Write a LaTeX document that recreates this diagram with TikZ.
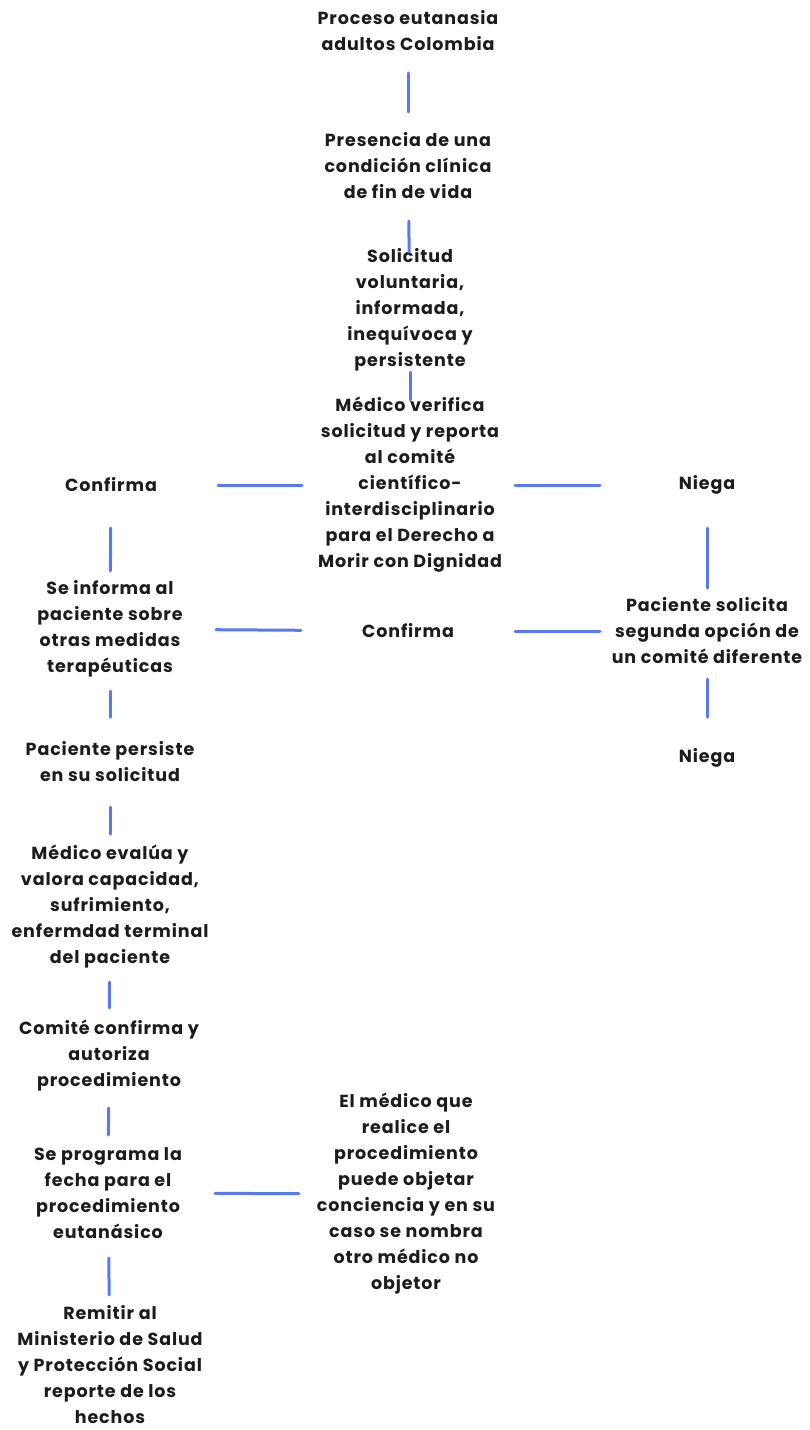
\documentclass[tikz,border=0pt]{standalone}
\usepackage{fontspec}
\setmainfont{Poppins}[LetterSpace=5]
\usepackage{tikz}

\definecolor{ink}{HTML}{1C1C1C}
\definecolor{wire}{HTML}{5A78F0}

\tikzset{
    box/.style={align=center, inner sep=0pt, text=ink,
        font=\fontsize{17.5}{26}\selectfont\bfseries},
    link/.style={draw=wire, line width=3pt, line cap=round},
}

\begin{document}
\begin{tikzpicture}[x=1pt, y=-1pt]
\useasboundingbox (0,0) rectangle (809,1430);

% centre column
\node[box] (title) at (408,31) {Proceso eutanasia\\adultos Colombia};
\node[box] (presencia) at (408,166) {Presencia de una\\condición clínica\\de fin de vida};
\node[box] (solicitud) at (410,310) {Solicitud\\voluntaria,\\informada,\\inequívoca y\\persistente};
\node[box] (verifica) at (410,485) {Médico verifica\\solicitud y reporta\\al comité\\científico-\\interdisciplinario\\para el Derecho a\\Morir con Dignidad};
\node[box] (confirmaM) at (408,631) {Confirma};
\node[box] (objetor) at (406,1194) {El médico que\\realice el\\procedimiento\\puede objetar\\conciencia y en su\\caso se nombra\\otro médico no\\objetor};

% left column
\node[box] (confirmaL) at (111,485) {Confirma};
\node[box] (informa) at (110,629) {Se informa al\\paciente sobre\\otras medidas\\terapéuticas};
\node[box] (persiste) at (110,762) {Paciente persiste\\en su solicitud};
\node[box] (evalua) at (110,907) {Médico evalúa y\\valora capacidad,\\sufrimiento,\\enfermdad terminal\\del paciente};
\node[box] (comite) at (109,1056) {Comité confirma y\\autoriza\\procedimiento};
\node[box] (programa) at (108,1193) {Se programa la\\fecha para el\\procedimiento\\eutanásico};
\node[box] (remitir) at (110,1365) {Remitir al\\Ministerio de Salud\\y Protección Social\\reporte de los\\hechos};

% right column
\node[box] (niegaR) at (707,485) {Niega};
\node[box] (pacSol) at (707,631) {Paciente solicita\\segunda opción de\\un comité diferente};
\node[box] (niegaB) at (707,758) {Niega};

% connectors
\draw[link, shorten <=42pt, shorten >=54pt] (title.center) -- (presencia.center);
\draw[link, shorten <=55pt, shorten >=58pt] (presencia.center) -- (solicitud.center);
\draw[link, shorten <=62pt, shorten >=85pt] (solicitud.center) -- (verifica.center);
\draw[link, shorten <=108pt, shorten >=107pt] (verifica.center) -- (confirmaL.center);
\draw[link, shorten <=105pt, shorten >=107pt] (verifica.center) -- (niegaR.center);
\draw[link, shorten <=43pt, shorten >=58pt] (confirmaL.center) -- (informa.center);
\draw[link, shorten <=106pt, shorten >=107pt] (informa.center) -- (confirmaM.center);
\draw[link, shorten <=107pt, shorten >=107pt] (confirmaM.center) -- (pacSol.center);
\draw[link, shorten <=43pt, shorten >=43pt] (niegaR.center) -- (pacSol.center);
\draw[link, shorten <=48pt, shorten >=41pt] (pacSol.center) -- (niegaB.center);
\draw[link, shorten <=62pt, shorten >=45pt] (informa.center) -- (persiste.center);
\draw[link, shorten <=45pt, shorten >=73pt] (persiste.center) -- (evalua.center);
\draw[link, shorten <=75pt, shorten >=48pt] (evalua.center) -- (comite.center);
\draw[link, shorten <=52pt, shorten >=58pt] (comite.center) -- (programa.center);
\draw[link, shorten <=107pt, shorten >=107pt] (programa.center) -- (objetor.center);
\draw[link, shorten <=65pt, shorten >=70pt] (programa.center) -- (remitir.center);
\end{tikzpicture}
\end{document}
